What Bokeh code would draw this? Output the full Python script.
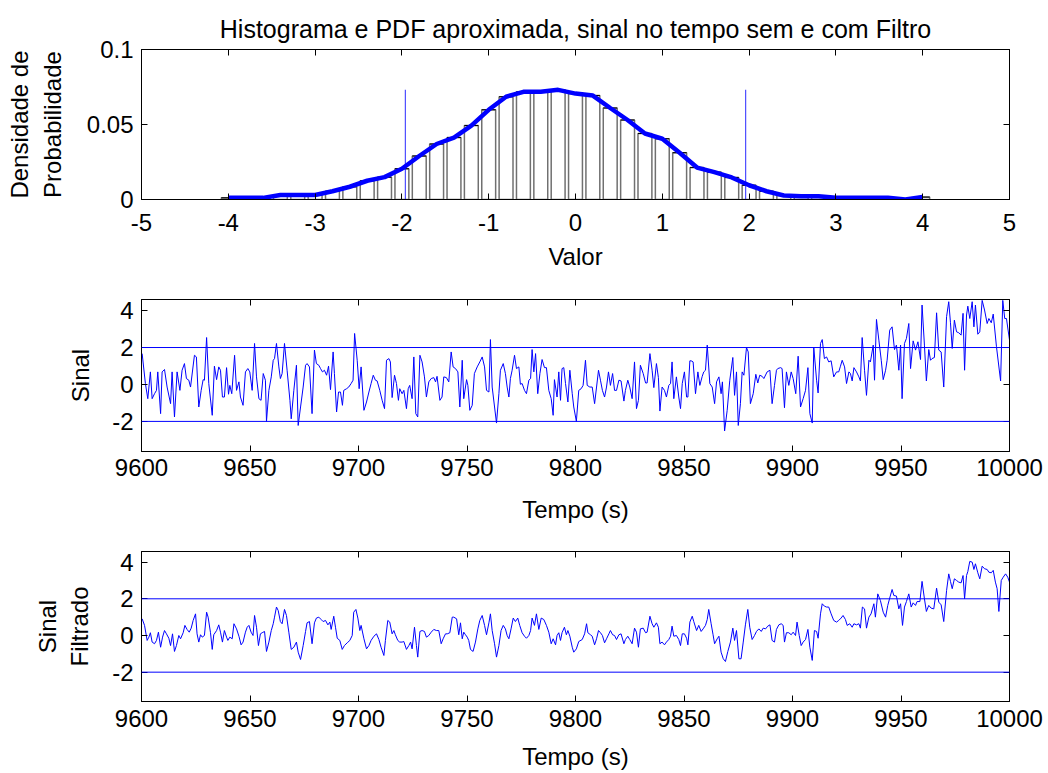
import numpy as np
from bokeh.plotting import figure
from bokeh.layouts import column
from bokeh.models import Range1d, FixedTicker, LinearAxis, Span
from bokeh.embed import file_html
from bokeh.resources import INLINE

FONTE = "Liberation Sans"
TAM = "24px"
AZUL = "#0000ff"

# ---------------- dados ----------------
titulo = "Histograma e PDF aproximada, sinal no tempo sem e com Filtro"

centros = [-4.0, -3.8, -3.6, -3.4, -3.2, -3.0, -2.8, -2.6, -2.4, -2.2, -2.0,
           -1.8, -1.6, -1.4, -1.2, -1.0, -0.8, -0.6, -0.4, -0.2, 0.0,
           0.2, 0.4, 0.6, 0.8, 1.0, 1.2, 1.4, 1.6, 1.8, 2.0,
           2.2, 2.4, 2.6, 2.8, 3.0, 3.2, 3.4, 3.6, 3.8, 4.0]
densidade = [0.0011, 0.0011, 0.0011, 0.0030, 0.0030, 0.0030, 0.0055, 0.0085, 0.0125, 0.0149, 0.0205,
             0.0290, 0.0370, 0.0413, 0.0493, 0.0598, 0.0685, 0.0718, 0.0718, 0.0731, 0.0706,
             0.0693, 0.0610, 0.0530, 0.0440, 0.0405, 0.0312, 0.0213, 0.0182, 0.0147, 0.0095,
             0.0055, 0.0027, 0.0022, 0.0022, 0.0011, 0.0011, 0.0011, 0.0011, 0.0000, 0.0016]
limites_pdf = [-1.96, 1.96]
ticks_valor = [-5, -4, -3, -2, -1, 0, 1, 2, 3, 4, 5]
ticks_dens = [0, 0.05, 0.1]
rotulos_dens = {0: "0", 0.05: "0.05", 0.1: "0.1"}

t0 = 9600  # segundos; tempos abaixo medidos a partir de t0
dt_sinal = [
    0.3, 1.8, 2.9, 4.1, 4.9, 6.0, 6.9, 7.5, 8.8, 9.5,
    10.6, 11.8, 13.4, 14.1, 15.2, 16.4, 17.7, 18.7, 19.8, 20.7,
    21.8, 22.6, 24.4, 25.3, 26.4, 27.5, 28.4, 29.0, 30.0, 31.0,
    32.6, 33.6, 34.6, 35.6, 36.4, 37.3, 38.2, 39.2, 40.1, 40.7,
    41.6, 42.9, 43.8, 44.9, 45.6, 46.8, 47.9, 49.0, 49.9, 51.0,
    52.1, 53.0, 54.1, 55.1, 56.1, 57.1, 57.6, 58.7, 59.8, 60.7,
    61.3, 62.2, 63.3, 64.0, 64.8, 65.9, 67.1, 68.4, 69.0, 70.2,
    71.4, 72.2, 73.3, 74.5, 75.6, 76.3, 77.4, 78.6, 79.7, 80.6,
    81.7, 82.5, 83.4, 84.3, 85.3, 86.2, 87.1, 88.3, 88.9, 89.9,
    90.8, 91.7, 92.6, 93.2, 94.5, 95.5, 96.6, 97.5, 98.2, 99.4,
    100.3, 101.2, 102.5, 103.7, 104.8, 105.8, 106.8, 107.8, 108.6, 109.8,
    110.9, 112.0, 112.9, 114.0, 114.7, 115.5, 116.6, 117.5, 118.4, 119.0,
    120.1, 120.9, 122.1, 122.9, 123.6, 124.7, 125.5, 126.4, 127.3, 128.3,
    129.3, 130.4, 131.3, 132.4, 133.5, 134.7, 135.5, 136.2, 137.5, 138.5,
    139.3, 140.5, 141.6, 142.7, 143.6, 144.7, 145.8, 146.7, 147.8, 148.5,
    149.8, 150.4, 151.3, 152.4, 153.4, 154.7, 155.9, 157.0, 158.1, 159.0,
    160.1, 160.8, 161.6, 162.7, 163.6, 164.7, 165.4, 166.7, 167.7, 168.5,
    169.3, 170.0, 170.8, 171.9, 172.8, 173.9, 174.6, 175.4, 176.5, 177.4,
    178.5, 179.3, 180.0, 180.8, 181.6, 182.6, 183.6, 184.6, 185.7, 186.6,
    187.7, 188.8, 189.7, 190.3, 191.5, 192.3, 193.1, 193.8, 194.6, 195.4,
    196.5, 197.4, 198.5, 199.2, 200.4, 201.5,
    202.6, 203.5, 204.6, 205.4, 206.6, 207.7, 208.8, 209.7, 210.6, 211.5,
    212.4, 213.4, 214.3, 215.2, 216.1, 217.1, 218.0, 218.9, 220.0, 221.0,
    222.3, 223.0, 224.1, 225.0, 226.1, 227.2, 228.1, 229.0, 229.9, 231.2,
    232.3, 233.0, 234.3, 235.3, 236.1, 237.3, 238.2, 238.9, 239.9, 241.0,
    241.9, 243.0, 243.8, 244.5, 245.3, 246.5, 247.6, 248.4, 249.2, 250.2,
    251.2, 251.8, 252.7, 253.3, 254.2, 255.3, 256.4, 257.3, 258.4, 259.1,
    259.9, 260.7, 261.9, 263.0, 264.1, 265.0, 266.1, 267.1, 267.7, 268.7,
    269.9, 271.1, 272.5, 273.3, 274.2, 275.0, 276.0, 276.8, 277.6, 278.8,
    279.6, 280.6, 281.9, 283.1, 284.0, 284.9, 286.0, 286.8, 288.3, 289.6,
    290.6, 291.7, 292.6, 293.2, 294.5, 295.2, 296.3, 297.2, 298.3, 299.4,
    300.3, 301.5, 302.6, 303.7, 304.9, 306.0, 307.1, 308.0, 309.1, 309.8,
    311.1, 311.8, 312.9, 313.7, 314.7, 315.7, 316.7, 317.8, 319.0, 320.3,
    321.3, 322.1, 322.9, 324.0, 324.9, 326.0, 326.7, 327.5, 328.3, 329.5,
    330.6, 331.3, 332.1, 333.2, 334.1, 335.2, 335.9, 337.2, 337.8, 338.7,
    339.8, 340.9, 341.8, 342.9, 343.6, 344.8, 345.9, 347.0, 347.9, 349.0,
    349.8, 350.5, 351.6, 352.5, 353.6, 354.4, 355.6, 356.7, 357.8, 359.0,
    359.7, 360.8, 361.7, 362.8, 363.6, 364.3, 365.4, 366.4, 367.4, 368.5,
    369.7, 371.0, 372.0, 372.8, 373.6, 374.6, 375.6, 376.6, 377.7, 378.6,
    379.3, 380.2, 380.8, 381.7, 382.8, 383.6, 384.3, 385.4, 386.3, 387.4,
    388.5, 389.7, 390.5, 391.6, 392.5, 394.0, 395.9, 396.9, 397.8, 398.6,
    400.0]
sinal = [
    1.67, 0.05, -0.77, 0.68, -0.77, -0.50, -0.32, 0.68, -1.58, 0.68,
    0.81, -0.14, -1.04, 0.68, -1.76, 0.68, -0.32, 0.77, 1.13, 0.32,
    0.23, -0.14, 1.58, 1.49, -1.22, -0.32, 0.26, 0.23, 2.54, 0.05,
    -1.67, 0.99, 0.26, 0.95, 0.77, -0.68, -0.68, 0.91, -0.53, -0.05,
    -0.50, 1.58, -0.32, 0.14, -0.68, -1.13, 0.68, 0.86, 0.68, -0.32,
    2.22, 0.41, -0.77, -0.86, 0.59, 0.23, -2.00, -0.32, 0.41, 1.31,
    1.40, 2.22, 0.95, 0.32, 0.59, 2.22, 0.77, -0.86, -1.86, -0.32,
    1.04, -2.22, -1.22, -0.14, 1.04, 1.13, 0.95, -1.58, 1.86, 1.13,
    1.04, 0.86, 0.68, 0.77, 0.50, 0.99, -0.28, 1.76, 0.59, -1.49,
    -0.41, -0.41, -1.13, -0.32, -0.23, -0.14, 0.05, 0.23, 2.76, 1.31,
    -0.23, 0.95, -1.40, -0.95, -0.41, 0.05, 0.50, 0.23, 0.19, -0.32,
    -0.86, -1.31, 1.31, 1.40, 1.22, -0.71, 0.50, 0.05, -0.86, -0.23,
    -0.50, -0.32, -1.31, -0.23, -0.05, -0.77, 1.49, -1.58, -1.76, 1.58,
    1.22, 0.41, -0.68, 0.14, 0.32, 0.37, 0.14, 0.44, -0.86, -0.68,
    0.41, 0.37, 0.14, 1.76, 0.95, 0.86, 0.68, -1.22, 1.31, -0.77,
    0.26, -0.05, -1.40, -1.13, 0.59, 0.95, 1.22, 1.49, 0.95, -0.32,
    -0.41, 2.43, -0.14, -1.22, -2.09, -0.50, 0.77, 1.13, 0.59, -0.14,
    -0.68, 0.32, 0.77, 1.58, 0.86, 0.95, 0.01, 0.05, -0.32, -0.50,
    0.23, 0.32, 1.89, 0.68, 1.67, -0.50, 0.59, 1.35, 0.91, 0.91,
    -0.32, -0.77, -1.67, 0.26, -0.68, 0.68, -0.86, 0.86, 0.91, 0.05,
    -0.95, 0.77, -0.50, -1.22, -2.00, -0.32,
    -0.23, -0.05, 1.31, -0.05, -0.14, -0.14, -1.04, -0.14, 0.77, 0.23,
    -0.32, -0.68, -0.14, 0.68, -0.05, 0.59, -0.32, -0.32, 0.23, 0.19,
    -0.90, -0.32, 0.23, -0.14, -0.77, 1.22, -1.31, -0.86, 1.04, 0.59,
    0.08, 0.08, 1.67, 0.77, -0.17, 1.13, 0.37, -1.44, -0.14, -0.32,
    -0.68, -0.05, 0.05, 1.22, -0.77, 0.41, -0.68, -1.31, 0.05, 0.68,
    -0.68, -0.68, 1.28, 1.28, 1.22, -0.50, 0.68, -0.05, 0.44, 0.68,
    0.77, 2.13, 0.05, -0.14, -1.04, 0.14, 0.41, -0.50, 0.14, -2.52,
    -1.40, 0.23, 1.46, -0.59, 0.68, -2.22, -1.04, 0.68, 0.50, 2.00,
    1.76, -1.04, -0.50, 0.55, 0.08, 0.50, 0.44, 0.32, 0.68, 0.77,
    -1.04, -0.05, 0.77, 0.86, 0.91, 0.86, -1.26, 0.68, -0.05, 0.68,
    0.32, -0.50, 1.53, -1.22, -0.77, -0.32, 0.91, -1.58, -2.09, 2.00,
    0.23, -0.46, 2.22, 2.43, 1.40, 1.49, 1.22, 1.28, 0.41, 0.68,
    0.68, 0.99, 1.31, 0.95, 0.05, 0.68, 0.59, 0.19, 0.91, 0.68,
    0.41, 0.19, 2.54, 0.77, -0.59, 1.31, 1.22, 2.13, 0.23, 3.52,
    2.40, 1.31, 0.26, 0.77, 1.31, 2.94, 3.12, 1.89, 2.13, 0.77,
    2.13, -0.77, 2.22, 2.49, 3.30, 0.86, 2.36, 1.86, 2.31, 1.35,
    4.30, 2.13, 0.19, 1.89, 1.31, 1.40, 1.46, 3.88, 1.86, 1.76,
    -0.14, 3.67, 4.48, 3.34, 1.95, 3.48, 2.85, 2.80, 2.67, 3.85,
    0.77, 3.76, 4.24, 3.57, 4.48, 3.12, 4.30, 2.72, 2.85, 4.55,
    4.03, 3.30, 3.57, 3.34, 3.81, 2.04, 0.19, 4.55, 3.57, 3.57,
    2.40]

dt_filtrado = [
    0.3, 1.4, 2.6, 3.4, 4.1, 4.9, 6.0, 6.9, 7.8, 8.8,
    9.7, 10.6, 11.5, 12.6, 13.4, 14.3, 15.2, 16.1, 17.2, 18.0,
    19.2, 20.0, 21.0, 22.0, 22.9, 23.8, 24.9, 25.6, 26.4, 27.2,
    28.0, 29.0, 30.0, 30.7, 31.8, 32.6, 33.3, 34.6, 35.6, 36.4,
    37.3, 38.2, 39.2, 39.8, 40.7, 41.8, 42.6, 43.8, 44.9, 45.9,
    46.8, 47.9, 48.7, 49.5, 50.5, 51.4, 52.1, 53.0, 53.9, 54.8,
    55.6, 56.7, 57.6, 58.7, 59.8, 60.7, 61.3, 62.2, 63.0, 64.0,
    64.8, 65.9, 66.8, 67.9, 69.0, 70.2, 71.4, 72.2, 73.3, 74.5,
    75.6, 76.3, 77.4, 78.6, 79.7, 80.6, 81.7, 82.8, 83.7, 84.8,
    85.9, 86.8, 87.4, 88.6, 89.4, 90.2, 91.4, 92.5, 93.5, 94.8,
    96.0, 97.1, 97.8, 98.8, 99.7, 100.6, 101.2, 102.5, 103.7, 104.8,
    105.8, 107.1, 108.3, 109.4, 110.4, 111.7, 112.4, 113.5, 114.4, 115.5,
    116.3, 117.0, 118.1, 119.0, 120.1, 120.9, 122.1, 123.2, 124.0, 124.7,
    125.8, 126.7, 127.3, 128.3, 129.3, 130.4, 131.3, 132.4, 133.5, 134.7,
    135.9, 137.0, 138.1, 139.0, 140.1, 140.9, 142.1, 143.2, 143.9, 145.2,
    146.2, 147.0, 147.8, 148.5, 149.3, 150.1, 150.8, 151.6, 152.8, 153.9,
    155.0, 155.9, 157.0, 158.1, 159.0, 160.1, 160.8, 161.6, 162.7, 163.6,
    164.7, 165.7, 166.7, 167.7, 168.5, 169.3, 170.3, 171.3, 172.3, 173.4,
    174.3, 175.4, 176.5, 177.4, 178.5, 179.3, 180.0, 181.1, 182.0, 183.1,
    184.2, 185.4, 186.6, 187.7, 188.8, 189.7, 190.8, 191.5, 192.3, 193.1,
    193.8, 194.9, 195.8, 196.5, 197.4, 198.5, 199.2, 200.4, 201.5,
    203.1, 204.2, 205.1, 205.7, 206.9, 207.7, 208.8, 209.7, 210.6, 211.5,
    212.4, 213.4, 214.3, 215.4, 216.1, 217.1, 218.0, 218.9, 220.0, 221.0,
    222.3, 223.0, 224.1, 225.0, 226.1, 227.2, 228.1, 229.0, 229.9, 231.2,
    232.3, 233.0, 234.3, 235.3, 236.1, 237.3, 238.2, 238.9, 239.9, 241.0,
    241.9, 243.0, 243.8, 244.5, 245.3, 246.5, 247.6, 248.4, 249.2, 250.2,
    251.2, 251.8, 252.7, 253.8, 254.5, 255.8, 256.8, 257.9, 258.8, 259.9,
    260.7, 261.4, 262.5, 263.4, 264.1, 265.3, 266.1, 267.1, 268.1, 269.1,
    270.2, 271.4, 272.5, 273.3, 274.2, 275.3, 276.3, 277.3, 278.3, 279.4,
    280.3, 281.4, 282.5, 283.4, 284.5, 285.6, 286.5, 287.6, 288.6, 289.6,
    290.6, 291.7, 292.6, 293.7, 294.8, 295.7, 296.3, 297.2, 298.3, 299.4,
    300.3, 301.4, 302.1, 303.1, 304.0, 304.9, 306.0, 307.1, 308.0, 309.1,
    310.1, 311.1, 311.8, 312.9, 313.7, 314.7, 315.7, 316.7, 317.8, 319.0,
    320.3, 321.3, 322.4, 323.3, 324.4, 325.2, 326.4, 327.5, 328.3, 329.5,
    330.6, 331.3, 332.2, 333.2, 334.1, 335.2, 336.2, 337.5, 338.2, 339.3,
    340.5, 341.8, 342.9, 343.9, 344.8, 345.9, 346.7, 347.9, 349.0, 349.8,
    350.7, 351.6, 352.5, 353.6, 354.7, 355.6, 356.7, 357.4, 358.7, 359.7,
    360.8, 361.7, 362.8, 363.9, 365.1, 366.4, 367.4, 368.5, 369.7, 371.0,
    372.0, 372.8, 373.6, 374.6, 375.6, 376.6, 377.7, 378.6, 379.3, 380.2,
    380.8, 381.7, 382.8, 383.6, 384.3, 385.4, 386.3, 387.4, 388.5, 389.7,
    390.5, 391.6, 392.5, 393.5, 394.3, 395.1, 396.2, 397.1, 398.2, 399.2,
    400.0]
filtrado = [
    0.91, 0.55, -0.27, -0.09, 0.15, -0.36, -0.45, -0.27, 0.18, -0.64,
    -0.09, 0.27, 0.09, -0.15, -0.55, 0.09, -0.87, -0.55, 0.00, -0.18,
    0.15, 0.55, 0.33, 0.18, 0.40, 0.82, 1.18, 0.09, -0.36, 0.04,
    -0.09, 0.00, 1.27, 1.00, 0.15, -0.76, 0.04, 0.27, 0.58, 0.18,
    -0.36, 0.27, -0.09, -0.27, -0.09, -0.18, 0.64, 0.36, -0.04, -0.51,
    -0.36, 0.18, 0.45, 0.55, 0.18, 0.00, 1.09, 0.45, -0.55, 0.09,
    0.15, 0.22, -0.87, -0.36, 0.27, 0.64, 1.00, 1.55, 1.36, 0.76,
    0.64, 1.42, 1.09, 0.18, -0.76, -0.64, -0.36, -0.91, -1.31, -0.55,
    0.22, 0.69, 0.76, -0.45, 0.69, 0.95, 1.00, 0.87, 0.76, 0.82,
    0.58, 0.73, 0.33, 1.05, 0.45, -0.15, -0.27, -0.76, -0.55, -0.40,
    -0.27, 0.00, 1.27, 1.42, 0.95, 0.27, 0.55, -0.18, -0.73, -0.55,
    -0.27, -0.04, 0.09, -0.22, -0.64, -1.09, -0.27, 0.82, 0.73, 0.09,
    0.27, 0.04, -0.27, -0.36, -0.36, -0.33, -0.76, -0.55, -0.36, -0.73,
    0.45, -0.55, -1.18, 0.22, 0.27, 0.22, -0.09, 0.00, 0.18, 0.33,
    0.27, 0.27, -0.45, -0.18, 0.09, 0.09, 0.15, 1.00, 1.00, 0.91,
    0.04, 0.69, -0.18, 0.18, 0.04, -0.09, -0.27, -0.76, -0.87, -0.36,
    0.36, 0.82, 1.09, 0.55, 0.04, 0.69, 1.18, 0.27, -0.45, -1.18,
    -0.55, 0.27, 0.55, 0.36, 0.00, -0.18, 0.36, 0.95, 0.76, 0.95,
    0.55, 0.15, -0.04, -0.15, 0.00, 0.27, 0.95, 0.55, 1.18, 0.33,
    0.95, 0.87, 0.55, 0.18, -0.45, -0.18, -0.51, 0.00, 0.15, -0.27,
    0.15, 0.45, 0.04, 0.27, -0.04, -0.64, -0.91, -0.73, -0.33,
    -0.22, 0.09, 0.64, 0.15, 0.04, -0.04, -0.51, -0.18, 0.27, 0.15,
    0.00, -0.40, -0.18, 0.09, 0.27, 0.04, 0.00, -0.22, 0.04, 0.09,
    -0.45, -0.22, -0.04, -0.22, -0.45, 0.40, 0.18, -0.64, 0.36, 0.40,
    0.15, 0.18, 1.05, 0.64, 0.45, 0.69, 0.45, -0.45, -0.36, -0.51,
    -0.36, -0.22, -0.04, 0.51, -0.04, 0.00, -0.22, -0.55, 0.09, 0.09,
    -0.15, -0.51, 0.73, 1.05, 0.76, 0.27, 0.55, 0.22, 0.36, 0.55,
    0.87, 1.42, 0.64, 0.04, -0.45, -0.18, -0.04, -0.91, -1.27, -1.42,
    -0.87, -0.36, 0.40, -0.27, 0.27, -1.27, -1.27, -0.36, 0.58, 1.42,
    0.45, -0.22, 0.00, 0.22, 0.36, 0.22, 0.40, 0.36, 0.51, 0.58,
    -0.27, -0.36, 0.33, 0.58, 0.64, 0.55, -0.36, 0.15, 0.15, 0.04,
    0.18, 0.00, 0.73, 0.00, -0.55, -0.36, -0.22, 0.33, -0.64, -1.36,
    0.27, 0.22, -0.15, 1.18, 1.73, 1.60, 1.55, 1.55, 1.18, 0.82,
    0.73, 0.82, 0.95, 1.09, 0.87, 0.55, 0.64, 0.45, 0.64, 0.58,
    0.64, 0.40, 1.55, 1.45, 0.40, 1.00, 1.18, 1.73, 1.00, 2.27,
    1.91, 1.27, 1.00, 1.64, 2.04, 2.51, 2.18, 2.15, 1.45, 1.73,
    0.55, 1.55, 1.85, 2.27, 1.55, 1.78, 1.64, 1.85, 1.85, 2.95,
    2.00, 1.31, 1.64, 1.49, 1.45, 2.58, 1.82, 1.67, 0.76, 2.45,
    3.36, 2.95, 2.55, 3.09, 3.00, 2.91, 2.87, 3.27, 2.00, 3.27,
    3.49, 4.04, 4.00, 3.60, 3.91, 3.42, 3.09, 3.78, 3.64, 3.60,
    3.45, 3.42, 3.55, 2.91, 2.55, 1.31, 3.00, 3.18, 3.36, 3.18,
    2.91]

limiares = [-2, 2]
ticks_tempo = [9600, 9650, 9700, 9750, 9800, 9850, 9900, 9950, 10000]
ticks_sinal = [-2, 0, 2, 4]

assert len(dt_sinal) == len(sinal), (len(dt_sinal), len(sinal))
assert len(dt_filtrado) == len(filtrado), (len(dt_filtrado), len(filtrado))
assert len(centros) == len(densidade)


def eixos(p, xticks, yticks):
    p.grid.visible = False
    p.outline_line_color = "black"
    p.outline_line_width = 1
    p.background_fill_color = "white"
    p.border_fill_color = "white"
    topo = LinearAxis()
    direita = LinearAxis()
    p.add_layout(topo, "above")
    p.add_layout(direita, "right")
    for ax in p.xaxis:
        ax.ticker = FixedTicker(ticks=xticks)
    for ax in p.yaxis:
        ax.ticker = FixedTicker(ticks=yticks)
    for ax in p.axis:
        ax.major_tick_in = 6
        ax.major_tick_out = 0
        ax.minor_tick_line_color = None
        ax.axis_line_color = "black"
        ax.major_tick_line_color = "black"
        ax.major_label_text_font = FONTE
        ax.major_label_text_font_size = TAM
        ax.major_label_text_color = "black"
        ax.major_label_standoff = 8
        ax.axis_label_text_font = FONTE
        ax.axis_label_text_font_size = TAM
        ax.axis_label_text_font_style = "normal"
        ax.axis_label_text_color = "black"
    # rótulos com hífen comum (como no original)
    p.below[0].major_label_overrides = {t: str(t) for t in xticks}
    p.left[0].major_label_overrides = {t: str(t) for t in yticks}
    topo.major_label_overrides = {t: "" for t in xticks}
    direita.major_label_overrides = {t: "" for t in yticks}
    topo.major_label_standoff = 0
    direita.major_label_standoff = 0
    topo.major_label_text_font_size = "1px"
    direita.major_label_text_font_size = "1px"


def fig(h, top, bottom, xr, yr):
    return figure(width=1048, height=h, x_range=xr, y_range=yr,
                  output_backend="svg", toolbar_location=None,
                  min_border_left=141, min_border_right=39,
                  min_border_top=top, min_border_bottom=bottom)


# ---------------- histograma / PDF ----------------
p1 = fig(275, 49, 76, Range1d(-5, 5), Range1d(0, 0.1))
eixos(p1, ticks_valor, ticks_dens)
p1.left[0].major_label_overrides = rotulos_dens
p1.left[0].axis_label = "Densidade de\nProbabilidade"
p1.left[0].axis_label_standoff = 18
p1.below[0].axis_label = "Valor"
p1.below[0].major_label_standoff = 14
p1.below[0].axis_label_standoff = 9
p1.title.text = titulo
p1.title.align = "center"
p1.title.vertical_align = "top"
p1.title.offset = 10
p1.title.text_font = FONTE
p1.title.text_font_size = "25px"
p1.title.text_font_style = "normal"
p1.title.text_color = "black"
p1.title.standoff = 10

c = np.array(centros)
d = np.array(densidade)
larg = 0.16
p1.vbar(x=c, top=d, width=larg, fill_color=None, line_color="#707070", line_width=1.5)
p1.segment(x0=c - larg / 2, y0=d, x1=c + larg / 2, y1=d, line_color="black", line_width=1)
p1.segment(x0=limites_pdf, y0=[0, 0], x1=limites_pdf, y1=[max(densidade)] * 2,
           line_color=AZUL, line_alpha=0.7, line_width=1.2)
p1.line(c, d, line_color=AZUL, line_width=4.5)

# ---------------- sinal ----------------
p2 = fig(253, 24, 77, Range1d(9600, 10000), Range1d(-3.63, 4.6))
eixos(p2, ticks_tempo, ticks_sinal)
p2.left[0].axis_label = "Sinal"
p2.left[0].axis_label_standoff = 15
p2.below[0].axis_label = "Tempo (s)"
p2.below[0].major_label_standoff = 7
p2.below[0].axis_label_standoff = 17
for v in limiares:
    p2.add_layout(Span(location=v, dimension="width", line_color=AZUL, line_width=1))
p2.line(t0 + np.array(dt_sinal), sinal, line_color=AZUL, line_width=1)

# ---------------- sinal filtrado ----------------
p3 = fig(245, 23, 72, Range1d(9600, 10000), Range1d(-3.6, 4.58))
eixos(p3, ticks_tempo, ticks_sinal)
p3.left[0].axis_label = "Sinal\nFiltrado"
p3.left[0].axis_label_standoff = 16
p3.below[0].axis_label = "Tempo (s)"
p3.below[0].major_label_standoff = 8
p3.below[0].axis_label_standoff = 13
for v in limiares:
    p3.add_layout(Span(location=v, dimension="width", line_color=AZUL, line_width=1))
p3.line(t0 + np.array(dt_filtrado), filtrado, line_color=AZUL, line_width=1)

layout = column(p1, p2, p3, spacing=0)
open("out.html", "w").write(file_html(layout, INLINE))
